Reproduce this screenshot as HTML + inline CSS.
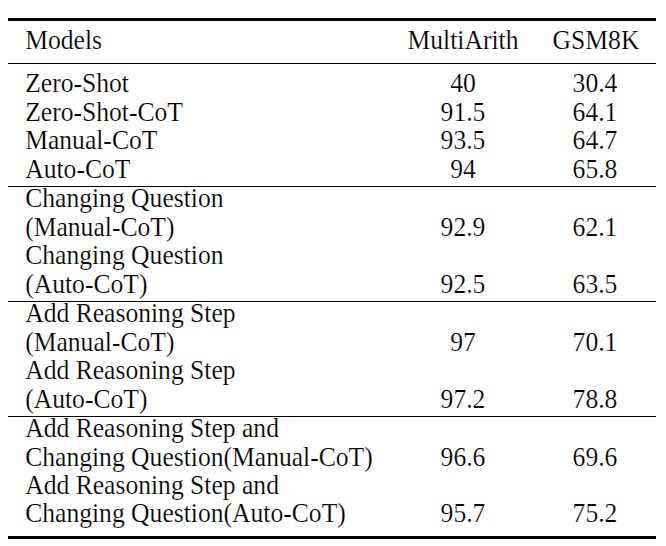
<!DOCTYPE html>
<html lang="en">
<head>
<meta charset="utf-8">
<title>Table</title>
<style>
html,body{margin:0;padding:0;background:#fff;}
body{width:666px;height:546px;position:relative;overflow:hidden;font-family:"Liberation Serif",serif;color:#000;}
.t{position:absolute;white-space:nowrap;font-size:25.6px;line-height:30px;height:30px;transform-origin:0 23.000px;transform:scaleY(1.07);-webkit-text-stroke:0.18px #fff;}
.c{text-align:center;width:200px;}
.r{position:absolute;left:8.0px;width:648.0px;background:#000;}
</style>
</head>
<body>
<div class="r" style="top:17.80px;height:3.20px"></div>
<div class="r" style="top:62.80px;height:1.50px"></div>
<div class="r" style="top:185.70px;height:1.45px"></div>
<div class="r" style="top:300.70px;height:1.45px"></div>
<div class="r" style="top:415.70px;height:1.45px"></div>
<div class="r" style="top:535.60px;height:3.30px"></div>
<div class="t" style="left:25.20px;top:26.00px">Models</div>
<div class="t c" style="left:363.00px;top:26.00px">MultiArith</div>
<div class="t c" style="left:496.00px;top:26.00px">GSM8K</div>
<div class="t" style="left:25.20px;top:69.00px">Zero-Shot</div>
<div class="t c" style="left:363.00px;top:69.00px">40</div>
<div class="t c" style="left:495.00px;top:69.00px">30.4</div>
<div class="t" style="left:25.20px;top:98.00px">Zero-Shot-CoT</div>
<div class="t c" style="left:363.00px;top:98.00px">91.5</div>
<div class="t c" style="left:495.00px;top:98.00px">64.1</div>
<div class="t" style="left:25.20px;top:126.00px">Manual-CoT</div>
<div class="t c" style="left:363.00px;top:126.00px">93.5</div>
<div class="t c" style="left:495.00px;top:126.00px">64.7</div>
<div class="t" style="left:25.20px;top:154.80px">Auto-CoT</div>
<div class="t c" style="left:363.00px;top:154.80px">94</div>
<div class="t c" style="left:495.00px;top:154.80px">65.8</div>
<div class="t" style="left:25.20px;top:183.80px">Changing Question</div>
<div class="t" style="left:25.20px;top:213.00px">(Manual-CoT)</div>
<div class="t c" style="left:363.00px;top:213.00px">92.9</div>
<div class="t c" style="left:495.00px;top:213.00px">62.1</div>
<div class="t" style="left:25.20px;top:240.80px">Changing Question</div>
<div class="t" style="left:25.20px;top:269.80px">(Auto-CoT)</div>
<div class="t c" style="left:363.00px;top:269.80px">92.5</div>
<div class="t c" style="left:495.00px;top:269.80px">63.5</div>
<div class="t" style="left:25.20px;top:298.70px">Add Reasoning Step</div>
<div class="t" style="left:25.20px;top:328.00px">(Manual-CoT)</div>
<div class="t c" style="left:363.00px;top:328.00px">97</div>
<div class="t c" style="left:495.00px;top:328.00px">70.1</div>
<div class="t" style="left:25.20px;top:356.00px">Add Reasoning Step</div>
<div class="t" style="left:25.20px;top:384.80px">(Auto-CoT)</div>
<div class="t c" style="left:363.00px;top:384.80px">97.2</div>
<div class="t c" style="left:495.00px;top:384.80px">78.8</div>
<div class="t" style="left:25.20px;top:413.70px">Add Reasoning Step and</div>
<div class="t" style="left:25.20px;top:443.00px">Changing Question(Manual-CoT)</div>
<div class="t c" style="left:363.00px;top:443.00px">96.6</div>
<div class="t c" style="left:495.00px;top:443.00px">69.6</div>
<div class="t" style="left:25.20px;top:471.00px">Add Reasoning Step and</div>
<div class="t" style="left:25.20px;top:498.80px">Changing Question(Auto-CoT)</div>
<div class="t c" style="left:363.00px;top:498.80px">95.7</div>
<div class="t c" style="left:495.00px;top:498.80px">75.2</div>
</body>
</html>
